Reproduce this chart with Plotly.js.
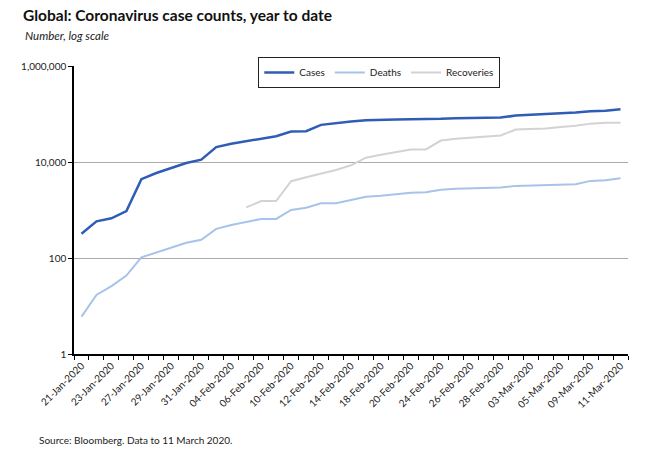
<!DOCTYPE html>
<html>
<head>
<meta charset="utf-8">
<script src="https://cdn.plot.ly/plotly-3.0.1.min.js"></script>
<style>
  body { margin: 0; background: #fff; }
  #chart { width: 650px; height: 455px; }
</style>
</head>
<body>
<div id="chart"></div>
<script>
// trading days, 21 Jan - 11 Mar 2020
let dates = [
  '21-Jan-2020', '22-Jan-2020', '23-Jan-2020', '24-Jan-2020', '27-Jan-2020',
  '28-Jan-2020', '29-Jan-2020', '30-Jan-2020', '31-Jan-2020', '03-Feb-2020',
  '04-Feb-2020', '05-Feb-2020', '06-Feb-2020', '07-Feb-2020', '10-Feb-2020',
  '11-Feb-2020', '12-Feb-2020', '13-Feb-2020', '14-Feb-2020', '17-Feb-2020',
  '18-Feb-2020', '19-Feb-2020', '20-Feb-2020', '21-Feb-2020', '24-Feb-2020',
  '25-Feb-2020', '26-Feb-2020', '27-Feb-2020', '28-Feb-2020', '02-Mar-2020',
  '03-Mar-2020', '04-Mar-2020', '05-Mar-2020', '06-Mar-2020', '09-Mar-2020',
  '10-Mar-2020', '11-Mar-2020'
]

let cases = [320, 580, 670, 950, 4400, 5900, 7500, 9500, 11200, 20400,
  24000, 26900, 30500, 34500, 43200, 43900, 59400, 65400, 69700, 74100,
  76600, 76600, 77800, 78000, 79400, 81600, 82000, 84200, 84200, 92600,
  95700, 97000, 102000, 107000, 113700, 117000, 125000]

let deaths = [6, 17, 26, 43, 103, 130, 163, 207, 239, 404,
  489, 573, 651, 651, 1000, 1117, 1380, 1380, 1590, 1880,
  1980, 2140, 2280, 2350, 2630, 2760, 2800, 2900, 2950, 3180,
  3250, 3340, 3400, 3450, 4040, 4180, 4590]

// no recoveries reported before 5 Feb
let recoveries = [null, null, null, null, null, null, null, null, null, null,
  null, 1137, 1535, 1535, 3980, 4820, 5750, 6830, 8530, 12300,
  14200, 15900, 18300, 18300, 28000, 30500, 32300, 33000, 35700, 47600,
  49000, 49800, 53800, 56800, 63000, 66000, 66000]

// label every second day, like the original
let tickText = dates.map((d, i) => i % 2 === 0 ? d : '')

let font = 'Lato, "Liberation Sans", sans-serif'

let traceCases = {
  x: dates, y: cases, type: 'scatter', mode: 'lines', name: 'Cases',
  line: { color: '#2F5DB5', width: 2.5 }
},
traceDeaths = {
  x: dates, y: deaths, type: 'scatter', mode: 'lines', name: 'Deaths',
  line: { color: '#A7C3EA', width: 2 }
},
traceRec = {
  x: dates, y: recoveries, type: 'scatter', mode: 'lines', name: 'Recoveries',
  connectgaps: false,
  line: { color: '#D3D3D3', width: 2 }
}

let layout = {
  width: 650,
  height: 455,
  margin: { l: 74, r: 22, t: 66, b: 101 },
  paper_bgcolor: '#fff',
  plot_bgcolor: '#fff',
  font: { family: font, size: 10, color: '#222' },
  title: {
    text: '<b>Global: Coronavirus case counts, year to date</b>',
    font: { family: font, size: 15.5, color: '#111' },
    xref: 'container', yref: 'container',
    x: 23 / 650, xanchor: 'left',
    y: 1 - 16 / 455, yanchor: 'middle'
  },
  showlegend: true,
  legend: {
    orientation: 'h',
    x: 0.551, xanchor: 'center',
    y: 1.031, yanchor: 'top',
    bgcolor: '#fff',
    bordercolor: '#222',
    borderwidth: 1,
    itemwidth: 30,
    font: { family: font, size: 10, color: '#222' }
  },
  xaxis: {
    type: 'category',
    categoryorder: 'array',
    categoryarray: dates,
    range: [-0.5, dates.length - 0.5],
    tickmode: 'array',
    tickvals: dates,
    ticktext: tickText,
    tickson: 'boundaries',
    ticks: 'outside',
    ticklen: 4,
    tickwidth: 1.2,
    tickcolor: '#000',
    tickangle: -45,
    tickfont: { family: font, size: 10, color: '#222' },
    showline: true,
    linecolor: '#000',
    linewidth: 2,
    showgrid: false,
    zeroline: false
  },
  yaxis: {
    type: 'log',
    range: [0, 6],
    dtick: 2,
    tick0: 0,
    tickformat: ',',
    ticks: 'outside',
    ticklen: 4,
    tickwidth: 1.2,
    tickcolor: '#000',
    tickfont: { family: font, size: 10, color: '#222' },
    showline: true,
    linecolor: '#000',
    linewidth: 1.5,
    showgrid: true,
    gridcolor: '#ABABAB',
    gridwidth: 1,
    zeroline: false
  },
  annotations: [
    {
      text: '<i>Number, log scale</i>',
      xref: 'paper', yref: 'paper',
      x: (23 - 74) / 554, y: (354 - 36) / 288,
      xanchor: 'left', yanchor: 'middle',
      showarrow: false,
      font: { family: font, size: 11.5, color: '#222' }
    },
    {
      text: 'Source: Bloomberg. Data to 11 March 2020.',
      xref: 'paper', yref: 'paper',
      x: (37 - 74) / 554, y: (354 - 440) / 288,
      xanchor: 'left', yanchor: 'middle',
      showarrow: false,
      font: { family: font, size: 10, color: '#222' }
    }
  ]
}

let config = { displayModeBar: false, responsive: false }

Plotly.newPlot('chart', [traceCases, traceDeaths, traceRec], layout, config)
</script>
</body>
</html>
